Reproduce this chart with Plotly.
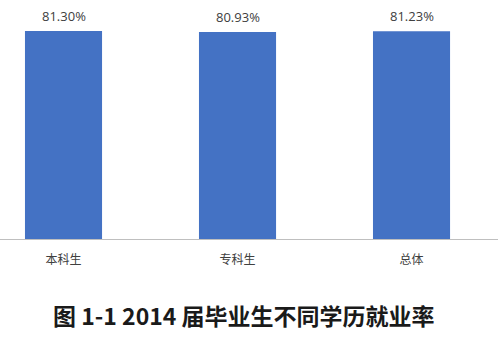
import plotly.graph_objects as go

categories = ["本科生", "专科生", "总体"]
values = [81.30, 80.93, 81.23]
labels = ["81.30%", "80.93%", "81.23%"]
title_text = "图 1-1 2014 届毕业生不同学历就业率"

fig = go.Figure()
fig.add_trace(go.Bar(
    x=[0, 1, 2], y=values,
    marker=dict(color="#4472C4", line=dict(width=0)),
    width=0.443,
    cliponaxis=False,
))
annotations = []
for i, (v, lab) in enumerate(zip(values, labels)):
    annotations.append(dict(
        x=i, y=v, xref="x", yref="y", text=lab, showarrow=False,
        xanchor="center", yanchor="bottom", yshift=4,
        font=dict(family="Open Sans, sans-serif", size=13, color="#404040"),
    ))
annotations.append(dict(
    text="<b>" + title_text + "</b>",
    xref="paper", yref="paper",
    x=243.5 / 498, y=-(315 - 239) / 239,
    xanchor="center", yanchor="middle", showarrow=False,
    font=dict(family="Noto Sans CJK SC", size=23, color="#1a1a1a"),
))
fig.update_layout(
    width=500, height=346,
    margin=dict(l=0, r=2, t=0, b=107),
    paper_bgcolor="white", plot_bgcolor="white",
    showlegend=False,
    xaxis=dict(
        range=[-0.365, 2.497],
        tickmode="array", tickvals=[0, 1, 2], ticktext=categories,
        showgrid=False, zeroline=False,
        showline=True, linecolor="#BFBFBF", linewidth=1,
        ticks="outside", ticklen=10, tickcolor="rgba(0,0,0,0)",
        tickfont=dict(family="Noto Sans CJK SC", size=12, color="#404040"),
    ),
    yaxis=dict(range=[0, 93.4], visible=False, showgrid=False, zeroline=False),
    annotations=annotations,
)
fig.write_html("out.html")
